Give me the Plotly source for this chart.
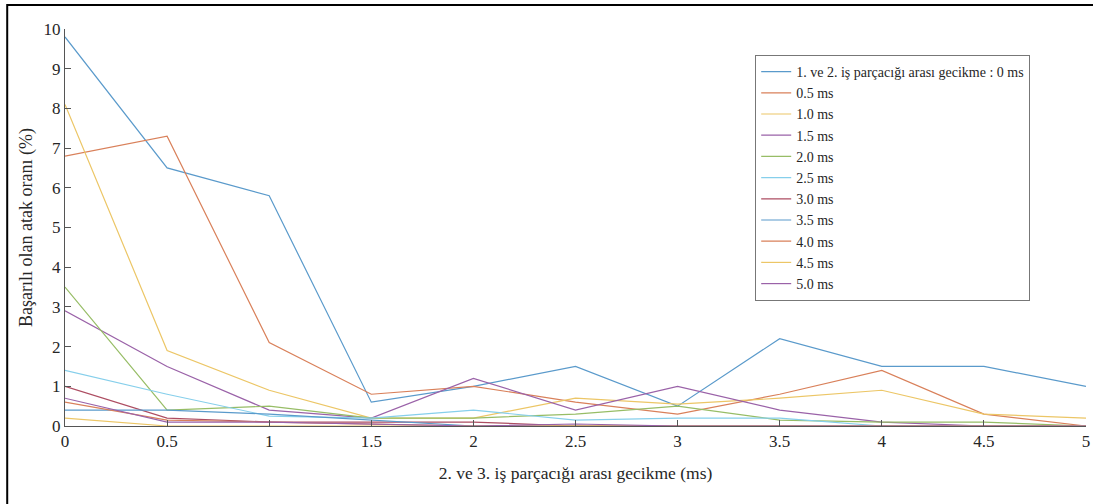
import plotly.graph_objects as go

x_delay = [0, 0.5, 1, 1.5, 2, 2.5, 3, 3.5, 4, 4.5, 5]
x_ticktext = ["0", "0.5", "1", "1.5", "2", "2.5", "3", "3.5", "4", "4.5", "5"]

names = ["1. ve 2. iş parçacığı arası gecikme : 0 ms", "0.5 ms", "1.0 ms", "1.5 ms",
         "2.0 ms", "2.5 ms", "3.0 ms", "3.5 ms", "4.0 ms", "4.5 ms", "5.0 ms"]

s_00 = [9.8, 6.5, 5.8, 0.6, 1.0, 1.5, 0.5, 2.2, 1.5, 1.5, 1.0]
s_05 = [6.8, 7.3, 2.1, 0.8, 1.0, 0.6, 0.3, 0.8, 1.4, 0.3, 0.0]
s_10 = [8.1, 1.9, 0.9, 0.2, 0.2, 0.7, 0.55, 0.7, 0.9, 0.3, 0.2]
s_15 = [2.9, 1.5, 0.4, 0.2, 1.2, 0.4, 1.0, 0.4, 0.1, 0.0, 0.0]
s_20 = [3.5, 0.4, 0.5, 0.2, 0.2, 0.3, 0.5, 0.15, 0.1, 0.1, 0.0]
s_25 = [1.4, 0.8, 0.25, 0.2, 0.4, 0.15, 0.2, 0.2, 0.0, 0.0, 0.0]
s_30 = [1.0, 0.2, 0.1, 0.1, 0.1, 0.0, 0.0, 0.0, 0.0, 0.0, 0.0]
s_35 = [0.4, 0.4, 0.3, 0.15, 0.0, 0.0, 0.0, 0.0, 0.0, 0.0, 0.0]
s_40 = [0.6, 0.15, 0.1, 0.05, 0.0, 0.0, 0.0, 0.0, 0.0, 0.0, 0.0]
s_45 = [0.2, 0.0, 0.0, 0.0, 0.0, 0.0, 0.0, 0.0, 0.0, 0.0, 0.0]
s_50 = [0.7, 0.1, 0.1, 0.05, 0.0, 0.05, 0.0, 0.0, 0.0, 0.0, 0.0]

series = [s_00, s_05, s_10, s_15, s_20, s_25, s_30, s_35, s_40, s_45, s_50]

colors = ["#5a9acb", "#d9805a", "#ecc666", "#9a62a8", "#97bd66", "#86cfeb", "#ad4d62",
          "#5a9acb", "#d9805a", "#ecc666", "#9a62a8"]

FONT = "Liberation Serif"

fig = go.Figure()
for name, ys, c in zip(names, series, colors):
    fig.add_trace(go.Scatter(x=x_delay, y=ys, mode="lines", name=name,
                             line=dict(color=c, width=1.2)))

fig.update_layout(
    width=1093, height=504,
    margin=dict(l=65, r=3, t=29, b=78),
    paper_bgcolor="white", plot_bgcolor="white",
    font=dict(family=FONT, size=17, color="#262626"),
    showlegend=True,
    legend=dict(x=0.676, y=0.9345, xanchor="left", yanchor="top",
                bgcolor="white", bordercolor="#777", borderwidth=1,
                font=dict(family=FONT, size=14, color="#262626"),
                itemwidth=30, tracegroupgap=0),
    xaxis=dict(range=[0, 5], tickvals=x_delay, ticktext=x_ticktext,
               ticklabeloverflow="allow",
               tickfont=dict(family=FONT, size=17, color="#262626"),
               ticks="inside", ticklen=6, tickcolor="#555", showgrid=False, zeroline=False,
               showline=True, linecolor="#555", linewidth=1,
               title=dict(text="2. ve 3. iş parçacığı arası gecikme (ms)", standoff=16,
                          font=dict(family=FONT, size=17.5))),
    yaxis=dict(range=[0, 10], tickvals=list(range(0, 11)),
               tickfont=dict(family=FONT, size=17, color="#262626"),
               ticks="inside", ticklen=6, tickcolor="#555", showgrid=False, zeroline=False,
               showline=True, linecolor="#555", linewidth=1,
               title=dict(text="Başarılı olan atak oranı (%)", standoff=6,
                          font=dict(family=FONT, size=18))),
    shapes=[dict(type="rect", xref="paper", yref="paper",
                 x0=-0.0566, x1=1.012, y0=-0.25, y1=1.0605,
                 line=dict(color="black", width=2), layer="below")],
)

fig.write_html("out.html")
